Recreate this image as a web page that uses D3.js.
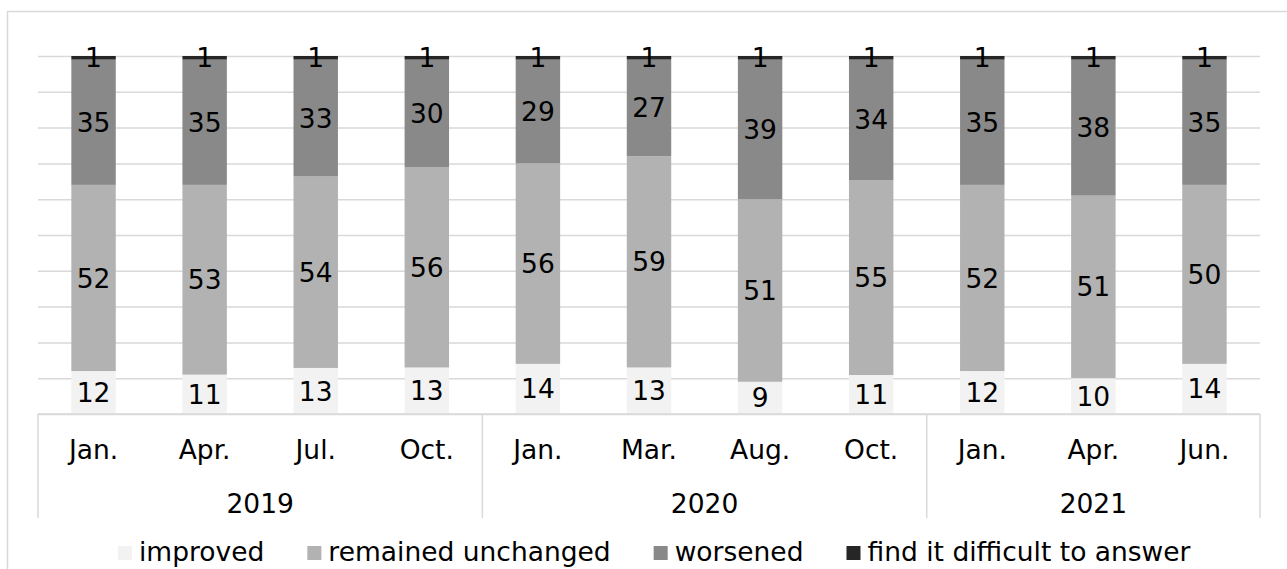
<!DOCTYPE html>
<html>
<head>
<meta charset="utf-8">
<script src="https://cdn.jsdelivr.net/npm/d3@7"></script>
<style>
  body { margin: 0; background: #fff; }
  text { font-family: "DejaVu Sans", Verdana, sans-serif; fill: #000; }
</style>
</head>
<body>
<div id="chart-area"></div>
<script>
// data
var months = ["Jan.", "Apr.", "Jul.", "Oct.", "Jan.", "Mar.", "Aug.", "Oct.", "Jan.", "Apr.", "Jun."];
var years = ["2019", "2019", "2019", "2019", "2020", "2020", "2020", "2020", "2021", "2021", "2021"];
var improved  = [12, 11, 13, 13, 14, 13, 9, 11, 12, 10, 14];
var unchanged = [52, 53, 54, 56, 56, 59, 51, 55, 52, 51, 50];
var worsened  = [35, 35, 33, 30, 29, 27, 39, 34, 35, 38, 35];
var difficult = [1, 1, 1, 1, 1, 1, 1, 1, 1, 1, 1];
var seriesNames = ["improved", "remained unchanged", "worsened", "find it difficult to answer"];
var yTicks = [0, 0.1, 0.2, 0.3, 0.4, 0.5, 0.6, 0.7, 0.8, 0.9, 1];

var colors = ["#f2f2f2", "#b2b2b2", "#898989", "#262626"];
var W = 1287, H = 569;
var plot = { left: 38, right: 1260, top: 56, bottom: 414 };
var fs = "26.5px";

var svg = d3.select("#chart-area")
    .append("svg")
    .attr("width", W)
    .attr("height", H);

// outer chart border (cropped at right and bottom in the reference)
svg.append("path")
    .attr("d", "M7.5," + (H + 2) + "V11.5H" + (W + 2))
    .attr("fill", "none")
    .attr("stroke", "#d9d9d9")
    .attr("stroke-width", 1.5);

// table for the stack
var keys = ["improved", "unchanged", "worsened", "difficult"];
var rows = months.map(function(m, i) {
    return { idx: i, improved: improved[i], unchanged: unchanged[i], worsened: worsened[i], difficult: difficult[i] };
});
var stacked = d3.stack().keys(keys).offset(d3.stackOffsetExpand)(rows);

var x = d3.scaleBand()
    .domain(d3.range(months.length))
    .range([plot.left, plot.right])
    .paddingInner(0.6)
    .paddingOuter(0.3);

var y = d3.scaleLinear().domain([0, 1]).range([plot.bottom, plot.top]);

// gridlines
var yAxis = d3.axisLeft(y).tickValues(yTicks).tickSize(-(plot.right - plot.left)).tickFormat("");
var gy = svg.append("g")
    .attr("transform", "translate(" + plot.left + ",0)")
    .call(yAxis);
gy.select(".domain").remove();
gy.selectAll(".tick line").attr("stroke", "#d9d9d9").attr("stroke-width", 1.5);

// bars
var layers = svg.append("g").selectAll("g")
    .data(stacked)
    .enter().append("g")
    .attr("fill", function(d, i) { return colors[i]; });

layers.selectAll("rect")
    .data(function(d) { return d; })
    .enter().append("rect")
    .attr("x", function(d) { return x(d.data.idx); })
    .attr("width", x.bandwidth())
    .attr("y", function(d) { return y(d[1]); })
    .attr("height", function(d) { return y(d[0]) - y(d[1]); });

// data labels
layers.selectAll("text")
    .data(function(d) { return d.map(function(p) { p.key = d.key; return p; }); })
    .enter().append("text")
    .attr("x", function(d) { return x(d.data.idx) + x.bandwidth() / 2; })
    .attr("y", function(d) { return (y(d[0]) + y(d[1])) / 2; })
    .attr("dy", "0.36em")
    .attr("text-anchor", "middle")
    .attr("font-size", fs)
    .text(function(d) { return d.data[d.key]; });

// category axis
svg.append("line")
    .attr("x1", plot.left).attr("x2", plot.right)
    .attr("y1", plot.bottom).attr("y2", plot.bottom)
    .attr("stroke", "#d9d9d9").attr("stroke-width", 1.5);

svg.append("g").selectAll("text")
    .data(months)
    .enter().append("text")
    .attr("x", function(d, i) { return x(i) + x.bandwidth() / 2; })
    .attr("y", 459)
    .attr("text-anchor", "middle")
    .attr("font-size", fs)
    .text(function(d) { return d; });

// year groups
var groups = [];
years.forEach(function(yr, i) {
    var last = groups[groups.length - 1];
    if (last && last.year === yr) last.end = i;
    else groups.push({ year: yr, start: i, end: i });
});
var step = x.step();
var edge = function(i) { return plot.left + i * step; };

var bounds = [0].concat(groups.map(function(g) { return g.end + 1; }));
svg.append("g").selectAll("line")
    .data(bounds)
    .enter().append("line")
    .attr("x1", function(d) { return edge(d); })
    .attr("x2", function(d) { return edge(d); })
    .attr("y1", plot.bottom)
    .attr("y2", 518)
    .attr("stroke", "#d9d9d9")
    .attr("stroke-width", 1.5);

svg.append("g").selectAll("text")
    .data(groups)
    .enter().append("text")
    .attr("x", function(d) { return (edge(d.start) + edge(d.end + 1)) / 2; })
    .attr("y", 513)
    .attr("text-anchor", "middle")
    .attr("font-size", fs)
    .text(function(d) { return d.year; });

// legend
var legend = svg.append("g");
var lx = 118;
seriesNames.forEach(function(name, i) {
    legend.append("rect")
        .attr("x", lx).attr("y", 546)
        .attr("width", 14).attr("height", 14)
        .attr("fill", colors[i]);
    var t = legend.append("text")
        .attr("x", lx + 21)
        .attr("y", 561)
        .attr("font-size", fs)
        .text(name);
    lx += 21 + t.node().getComputedTextLength() + 43;
});
</script>
</body>
</html>
